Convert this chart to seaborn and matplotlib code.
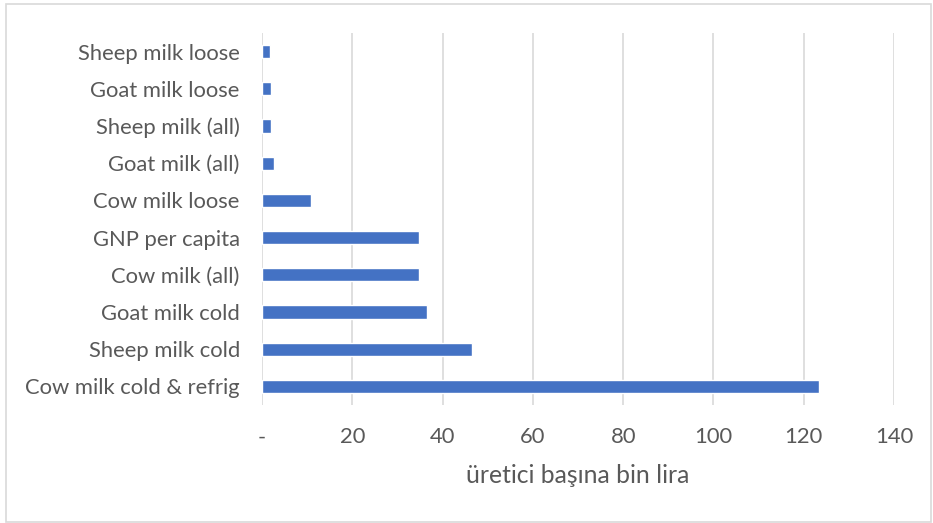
import matplotlib
matplotlib.use("Agg")
import matplotlib.pyplot as plt
import seaborn as sns
import pandas as pd
from matplotlib.patches import Rectangle

categories = ["Sheep milk loose", "Goat milk loose", "Sheep milk (all)", "Goat milk (all)",
              "Cow milk loose", "GNP per capita", "Cow milk (all)", "Goat milk cold",
              "Sheep milk cold", "Cow milk cold & refrig"]
values = [1.8, 2.1, 2.1, 2.7, 10.9, 34.7, 34.8, 36.6, 46.6, 123.4]
xticks = [0, 20, 40, 60, 80, 100, 120, 140]
xticklabels = ["-", "20", "40", "60", "80", "100", "120", "140"]
xlabel = "üretici başına bin lira"

sns.set_theme(style="white")
plt.rcParams['font.family'] = ['Lato', 'DejaVu Sans']

df = pd.DataFrame({"cat": categories, "val": values})

fig = plt.figure(figsize=(9.33, 5.23), dpi=100)
ax = fig.add_axes([262/933, 1-405/523, (894-262)/933, (405-33)/523])

sns.barplot(data=df, y="cat", x="val", orient="h", color="#4472C4", saturation=1,
            width=0.36, ax=ax, zorder=3)

ax.set_xlim(0, 140)
ax.set_ylim(9.5, -0.5)
ax.set_xticks(xticks)
ax.set_xticklabels(xticklabels)
ax.grid(axis="x", color="#d9d9d9", linewidth=1.2, zorder=0)
ax.set_axisbelow(True)
for s in ax.spines.values():
    s.set_visible(False)
ax.tick_params(axis="both", length=0, colors="#595959", labelsize=15.8)
ax.tick_params(axis="x", pad=16)
ax.tick_params(axis="y", pad=16)
ax.set_ylabel("")
ax.set_xlabel(xlabel, color="#595959", fontsize=17.8, labelpad=12)

fig.patches.append(Rectangle((6/933, 1/523), 925/933, 518/523, transform=fig.transFigure,
                             fill=False, edgecolor="#d9d9d9", linewidth=1.2))

fig.savefig("out.png", dpi=100)
